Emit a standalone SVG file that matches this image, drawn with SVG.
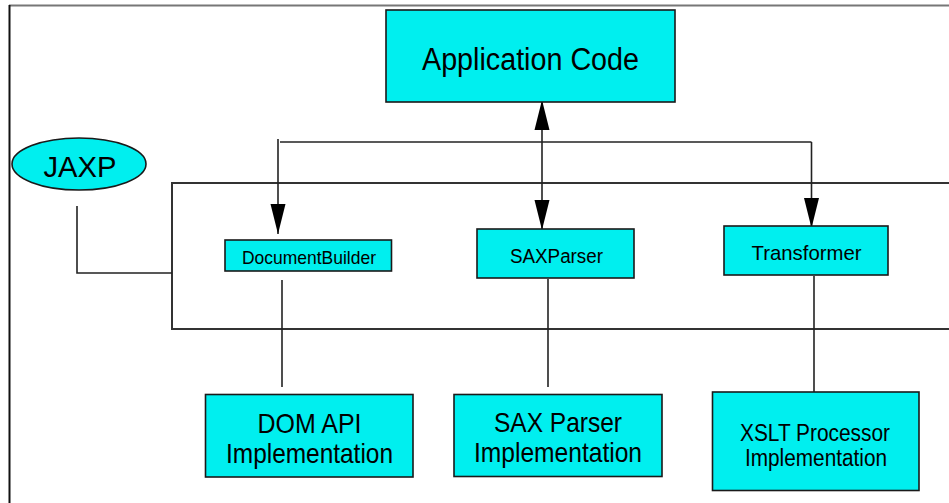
<svg xmlns="http://www.w3.org/2000/svg" width="949" height="503" viewBox="0 0 949 503">
  <style>
    .box { fill: #00EFEF; stroke: #1a1a1a; stroke-width: 1.6; }
    .lbl { font-family: "Liberation Sans", Arial, sans-serif; fill: #000; text-anchor: middle; }
    .wire { fill: none; stroke: #222; stroke-width: 1.6; }
    .frame { fill: none; stroke: #333; stroke-width: 2; }
  </style>
  <defs>
    <marker id="arrowHead" markerUnits="userSpaceOnUse" markerWidth="32" markerHeight="18" viewBox="0 0 32 18" refX="30" refY="9" orient="auto">
      <path d="M0 1.5 L30 9 L0 16.5 Z" fill="#000"/>
    </marker>
  </defs>

  <!-- page frame -->
  <path d="M9 5.5 H949" stroke="#777" stroke-width="2" fill="none"/>
  <path d="M9.5 5 V503" stroke="#111" stroke-width="2" fill="none"/>

  <!-- JAXP boundary -->
  <path class="frame" d="M949 183 H172 V329 H949"/>

  <!-- connectors -->
  <g id="connectors">
    <path class="wire" d="M77 206 V273 H172"/>
    <path class="wire" d="M280 142 H811.5"/>
    <path class="wire" d="M278 139 V234" marker-end="url(#arrowHead)"/>
    <path class="wire" d="M542 142 V100" marker-end="url(#arrowHead)"/>
    <path class="wire" d="M542 142 V230" marker-end="url(#arrowHead)"/>
    <path class="wire" d="M811.5 142 V228" marker-end="url(#arrowHead)"/>
    <path class="wire" d="M282 280 V387"/>
    <path class="wire" d="M548 279 V387"/>
    <path class="wire" d="M814 276 V392"/>
  </g>

  <g id="app-code">
    <rect class="box" x="386" y="10" width="289" height="92"/>
    <text class="lbl" x="530.5" y="70" font-size="31" textLength="217" lengthAdjust="spacingAndGlyphs">Application Code</text>
  </g>

  <g id="jaxp">
    <ellipse class="box" cx="79" cy="164" rx="67" ry="26"/>
    <text class="lbl" x="80" y="176.5" font-size="29" textLength="73" lengthAdjust="spacingAndGlyphs">JAXP</text>
  </g>

  <g id="document-builder">
    <rect class="box" x="225" y="240" width="166.5" height="31"/>
    <text class="lbl" x="309" y="264" font-size="19" textLength="134" lengthAdjust="spacingAndGlyphs">DocumentBuilder</text>
  </g>

  <g id="sax-parser">
    <rect class="box" x="477" y="229" width="157" height="49"/>
    <text class="lbl" x="556.5" y="262.5" font-size="20" textLength="93" lengthAdjust="spacingAndGlyphs">SAXParser</text>
  </g>

  <g id="transformer">
    <rect class="box" x="724" y="226" width="164" height="49"/>
    <text class="lbl" x="806.5" y="260" font-size="21" textLength="110" lengthAdjust="spacingAndGlyphs">Transformer</text>
  </g>

  <g id="dom-impl">
    <rect class="box" x="205.5" y="394.5" width="207.5" height="82.5"/>
    <text class="lbl" x="309.5" y="433" font-size="28" textLength="104" lengthAdjust="spacingAndGlyphs">DOM API</text>
    <text class="lbl" x="309.5" y="463" font-size="28" textLength="167" lengthAdjust="spacingAndGlyphs">Implementation</text>
  </g>

  <g id="sax-impl">
    <rect class="box" x="454" y="394.5" width="208" height="82"/>
    <text class="lbl" x="558" y="432" font-size="28" textLength="128" lengthAdjust="spacingAndGlyphs">SAX Parser</text>
    <text class="lbl" x="558" y="462" font-size="28" textLength="168" lengthAdjust="spacingAndGlyphs">Implementation</text>
  </g>

  <g id="xslt-impl">
    <rect class="box" x="712.5" y="392" width="206.5" height="98.5"/>
    <text class="lbl" x="815" y="441" font-size="23.5" textLength="150" lengthAdjust="spacingAndGlyphs">XSLT Processor</text>
    <text class="lbl" x="816" y="466" font-size="23.5" textLength="142" lengthAdjust="spacingAndGlyphs">Implementation</text>
  </g>
</svg>
